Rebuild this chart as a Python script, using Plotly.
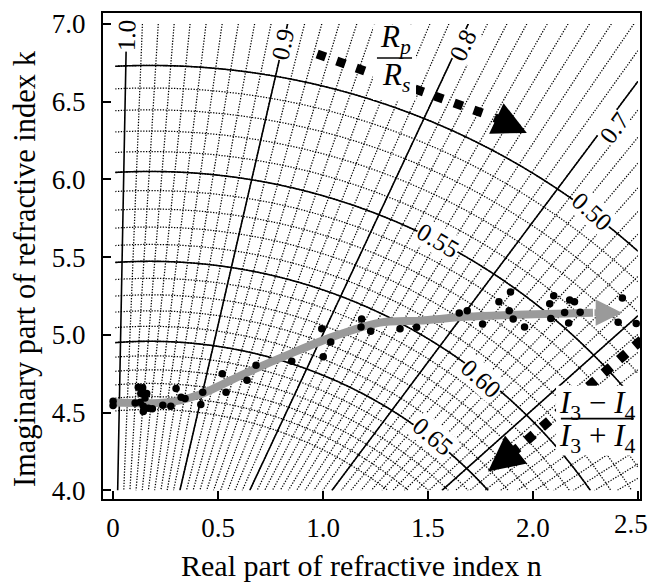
import numpy as np
import plotly.graph_objects as go

# ---------------- values ----------------
# measured points (n, k)
meas_n = [0.00, 0.00, 0.120, 0.141, 0.132, 0.160, 0.152, 0.105, 0.129, 0.144, 0.144, 0.168, 0.187,
          0.237, 0.275, 0.300, 0.324, 0.343, 0.418, 0.427, 0.520, 0.538, 0.638, 0.681, 0.851,
          0.994, 1.037, 1.001, 1.184, 1.181, 1.227, 1.367, 1.446, 1.649, 1.687,
          1.893, 1.838, 1.887, 1.906, 1.760, 1.960, 2.099, 2.080, 2.175, 2.198, 2.151, 2.225,
          2.085, 2.170, 2.344, 2.426, 2.406, 2.492]
meas_k = [4.574, 4.546, 4.663, 4.660, 4.623, 4.623, 4.595, 4.563, 4.567, 4.541, 4.507, 4.529, 4.525,
          4.548, 4.541, 4.655, 4.599, 4.591, 4.552, 4.631, 4.750, 4.631, 4.708, 4.805, 4.830,
          5.040, 4.955, 4.859, 5.103, 5.051, 5.023, 5.039, 5.049, 5.141, 5.156,
          5.276, 5.214, 5.156, 5.103, 5.071, 5.051, 5.252, 5.200, 5.225, 5.214, 5.145, 5.146,
          5.106, 5.077, 5.148, 5.238, 5.082, 5.074]

# grey trend curve through the measurements
trend_n = [0.0, 0.257, 0.414, 0.638, 0.857, 1.048, 1.271, 1.462, 1.700, 2.286]
trend_k = [4.565, 4.565, 4.617, 4.758, 4.886, 4.989, 5.079, 5.092, 5.118, 5.143]
trend_tip_n, trend_tip_k = 2.424, 5.143

# Rp/Rs iso-lines: level and direction (deg from vertical) about their convergence point
rprs_levels = [1.0, 0.9, 0.8, 0.7, 0.6]
rprs_angles = [1.1, 13.0, 25.1, 36.8, 48.3]
rprs_origin = (-0.005, 2.11)          # (n, k) where the iso-lines converge
rprs_label_text = ["1.0", "0.9", "0.8", "0.7"]
rprs_label_n = [0.062, 0.810, 1.667, 2.390]
rprs_label_k = [6.922, 6.865, 6.858, 6.331]

# (I3-I4)/(I3+I4) iso-lines: level and radius (in n units) about their centre
iratio_levels = [0.50, 0.55, 0.60, 0.65]
iratio_radii = [3.495, 2.990, 2.562, 2.181]
iratio_center = (0.176, 2.015)
iratio_label_text = ["0.50", "0.55", "0.60", "0.65"]
iratio_label_n = [2.281, 1.548, 1.752, 1.524]
iratio_label_k = [5.792, 5.606, 4.719, 4.347]
iratio_label_angle = [42, 31, 42, 40]

# direction arrows
rprs_arrow_n = [0.972, 1.810]
rprs_arrow_k = [6.807, 6.402]
rprs_tip = (1.971, 6.299)
iratio_arrow_n = [2.518, 1.938]
iratio_arrow_k = [4.968, 4.283]
iratio_tip = (1.786, 4.122)

x_ticks = [0, 0.5, 1.0, 1.5, 2.0, 2.5]
x_ticktext = ["0", "0.5", "1.0", "1.5", "2.0", "2.5"]
y_ticks = [4.0, 4.5, 5.0, 5.5, 6.0, 6.5, 7.0]
y_ticktext = ["4.0", "4.5", "5.0", "5.5", "6.0", "6.5", "7.0"]

x_title = "Real part of refractive index n"
y_title = "Imaginary part of refractive index k"

# ---------------- layout geometry ----------------
W, H = 650, 585
M = dict(l=103, r=10, t=13, b=86)
x_range = [-0.048, 2.51]
y_range = [3.945, 7.07]
px_n = (W - M["l"] - M["r"]) / (x_range[1] - x_range[0])
px_k = (H - M["t"] - M["b"]) / (y_range[1] - y_range[0])
aspect = px_k / px_n

FONT = "Liberation Serif, Times New Roman, serif"


def lin_extrap(x, xp, fp):
    xp = np.asarray(xp, float)
    fp = np.asarray(fp, float)
    y = np.interp(x, xp, fp)
    y = np.where(x < xp[0], fp[0] + (x - xp[0]) * (fp[1] - fp[0]) / (xp[1] - xp[0]), y)
    y = np.where(x > xp[-1], fp[-1] + (x - xp[-1]) * (fp[-1] - fp[-2]) / (xp[-1] - xp[-2]), y)
    return y


# grid of the nomogram
gn = np.linspace(0.01, 2.5, 420)
gk = np.linspace(4.0, 7.0, 420)
N, K = np.meshgrid(gn, gk)

ang = np.degrees(np.arctan2((N - rprs_origin[0]), (K - rprs_origin[1]) * aspect))
Z_rprs = lin_extrap(ang, rprs_angles, rprs_levels)

rad = np.hypot(N - iratio_center[0], (K - iratio_center[1]) * aspect)
Z_ir = lin_extrap(np.log(rad), np.log(iratio_radii[::-1]), iratio_levels[::-1])

fig = go.Figure()

dot = dict(color="black", width=1.25, dash="1.3px,1.5px")
solid = dict(color="black", width=1.6)


def contour(z, start, end, size, line):
    return go.Contour(x=gn, y=gk, z=z, autocontour=False,
                      contours=dict(start=start, end=end, size=size, coloring="none",
                                    showlabels=False),
                      line=line, showscale=False, hoverinfo="skip")


fig.add_trace(contour(Z_ir, 0.50, 0.705, 0.01, dot))
fig.add_trace(contour(Z_rprs, 0.40, 0.995, 0.01, dot))
fig.add_trace(contour(Z_ir, 0.50, 0.655, 0.05, solid))
fig.add_trace(contour(Z_rprs, 0.60, 1.005, 0.1, solid))

# grey trend
fig.add_trace(go.Scatter(x=trend_n, y=trend_k, mode="lines",
                         line=dict(color="#9a9a9a", width=8, shape="spline", smoothing=0.8),
                         hoverinfo="skip", showlegend=False))
# measured points
fig.add_trace(go.Scatter(x=meas_n, y=meas_k, mode="markers",
                         marker=dict(color="black", size=7.5), showlegend=False))
# dashed (square / diamond) arrows
fig.add_trace(go.Scatter(x=rprs_arrow_n, y=rprs_arrow_k, mode="lines",
                         line=dict(color="black", width=9, dash="9px,11.8px"),
                         hoverinfo="skip", showlegend=False))
fig.add_trace(go.Scatter(x=iratio_arrow_n, y=iratio_arrow_k, mode="lines",
                         line=dict(color="black", width=9.5, dash="9.5px,11px"),
                         hoverinfo="skip", showlegend=False))

ann = []
# arrow heads
ann.append(dict(x=trend_tip_n, y=trend_tip_k, ax=trend_n[-1], ay=trend_k[-1],
                xref="x", yref="y", axref="x", ayref="y", text="", showarrow=True,
                arrowhead=2, arrowsize=0.75, arrowwidth=7, arrowcolor="#9a9a9a"))
ann.append(dict(x=rprs_tip[0], y=rprs_tip[1], ax=rprs_arrow_n[-1], ay=rprs_arrow_k[-1],
                xref="x", yref="y", axref="x", ayref="y", text="", showarrow=True,
                arrowhead=2, arrowsize=0.75, arrowwidth=9, arrowcolor="black"))
ann.append(dict(x=iratio_tip[0], y=iratio_tip[1], ax=iratio_arrow_n[-1], ay=iratio_arrow_k[-1],
                xref="x", yref="y", axref="x", ayref="y", text="", showarrow=True,
                arrowhead=2, arrowsize=0.75, arrowwidth=9.5, arrowcolor="black"))

# contour labels
for t, xx, yy, a in zip(rprs_label_text, rprs_label_n, rprs_label_k, rprs_angles):
    ann.append(dict(x=xx, y=yy, xref="x", yref="y", text=t, showarrow=False,
                    textangle=-(90 - a), bgcolor="white", borderpad=0,
                    font=dict(family=FONT, size=25, color="black")))
for t, xx, yy, a in zip(iratio_label_text, iratio_label_n, iratio_label_k, iratio_label_angle):
    ann.append(dict(x=xx, y=yy, xref="x", yref="y", text=t, showarrow=False,
                    textangle=a, bgcolor="white", borderpad=0,
                    font=dict(family=FONT, size=25, color="black")))

# fraction labels
ffont = dict(family=FONT, size=31, color="black")
ann.append(dict(x=1.346, y=6.90, xref="x", yref="y", showarrow=False,
                text="<i>R<sub>p</sub></i>", font=ffont))
ann.append(dict(x=1.348, y=6.66, xref="x", yref="y", showarrow=False,
                text="<i>R<sub>s</sub></i>", font=ffont))
ann.append(dict(x=2.305, y=4.55, xref="x", yref="y", showarrow=False,
                text="<i>I</i><sub>3</sub> − <i>I</i><sub>4</sub>", font=ffont))
ann.append(dict(x=2.305, y=4.34, xref="x", yref="y", showarrow=False,
                text="<i>I</i><sub>3</sub> + <i>I</i><sub>4</sub>", font=ffont))

# last x tick label, nudged left so it stays inside the picture (as in the original)
ann.append(dict(x=x_ticks[-1], y=0, xref="x", yref="paper", showarrow=False,
                text=x_ticktext[-1], xanchor="center", yanchor="top", xshift=-7, yshift=-8,
                font=dict(family=FONT, size=27, color="black")))

# axis titles
ann.append(dict(x=0.4823, y=-0.136, xref="paper", yref="paper", showarrow=False,
                text=x_title, xanchor="center", yanchor="middle",
                font=dict(family=FONT, size=30, color="black")))
ann.append(dict(x=-0.1453, y=0.475, xref="paper", yref="paper", showarrow=False,
                text=y_title, textangle=-90, xanchor="center", yanchor="middle",
                font=dict(family=FONT, size=30.5, color="black")))

shapes = [
    dict(type="rect", xref="x", yref="y", x0=1.238, x1=1.443, y0=6.51, y1=6.998,
         fillcolor="white", line=dict(width=0), layer="above"),
    dict(type="line", xref="x", yref="y", x0=1.257, x1=1.424, y0=6.781, y1=6.781,
         line=dict(color="#444", width=2), layer="above"),
    dict(type="rect", xref="x", yref="y", x0=2.11, x1=2.51, y0=4.225, y1=4.674,
         fillcolor="white", line=dict(width=0), layer="above"),
    dict(type="line", xref="x", yref="y", x0=2.133, x1=2.48, y0=4.462, y1=4.462,
         line=dict(color="black", width=1.6), layer="above"),
]

fig.update_layout(
    width=W, height=H, margin=M, paper_bgcolor="white", plot_bgcolor="white",
    showlegend=False, annotations=ann, shapes=shapes,
    font=dict(family=FONT, color="black"),
)
fig.update_xaxes(range=x_range, tickvals=x_ticks, ticktext=x_ticktext[:-1] + [""],
                 ticks="inside",
                 ticklen=8, tickwidth=1.5, tickcolor="black", showline=True, mirror=True,
                 linecolor="black", linewidth=2, showgrid=False, zeroline=False,
                 tickfont=dict(family=FONT, size=27), ticklabelstandoff=4,
                 automargin=False)
fig.update_yaxes(range=y_range, tickvals=y_ticks, ticktext=y_ticktext, ticks="inside",
                 ticklen=8, tickwidth=1.5, tickcolor="black", showline=True, mirror=True,
                 linecolor="black", linewidth=2, showgrid=False, zeroline=False,
                 tickfont=dict(family=FONT, size=27), ticklabelstandoff=10,
                 automargin=False)

fig.write_html("out.html")
